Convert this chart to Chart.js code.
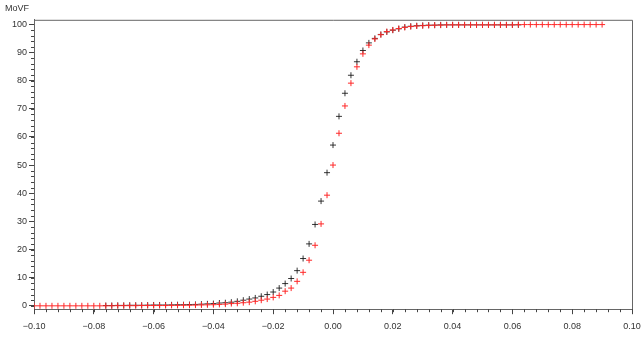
<!DOCTYPE html>
<html><head><meta charset="utf-8">
<script src="https://cdn.jsdelivr.net/npm/chart.js@4/dist/chart.umd.min.js"></script>
<style>html,body{margin:0;padding:0;background:#fff}#wrap{width:641px;height:337px}</style>
</head><body><div id="wrap"><canvas id="c" width="641" height="337"></canvas></div>
<script>
const redX = [-0.100,-0.098,-0.096,-0.094,-0.092,-0.090,-0.088,-0.086,-0.084,-0.082,-0.080,-0.078,-0.076,-0.074,-0.072,-0.070,-0.068,-0.066,-0.064,-0.062,-0.060,-0.058,-0.056,-0.054,-0.052,-0.050,-0.048,-0.046,-0.044,-0.042,-0.040,-0.038,-0.036,-0.034,-0.032,-0.030,-0.028,-0.026,-0.024,-0.022,-0.020,-0.018,-0.016,-0.014,-0.012,-0.010,-0.008,-0.006,-0.004,-0.002,0.000,0.002,0.004,0.006,0.008,0.010,0.012,0.014,0.016,0.018,0.020,0.022,0.024,0.026,0.028,0.030,0.032,0.034,0.036,0.038,0.040,0.042,0.044,0.046,0.048,0.050,0.052,0.054,0.056,0.058,0.060,0.062,0.064,0.066,0.068,0.070,0.072,0.074,0.076,0.078,0.080,0.082,0.084,0.086,0.088,0.090];
const redY = [0,0,0,0,0,0,0,0,0,0,0,0,0,0,0.05,0.05,0.05,0.05,0.1,0.1,0.1,0.1,0.1,0.15,0.15,0.2,0.2,0.25,0.3,0.35,0.4,0.5,0.6,0.8,0.9,1.1,1.3,1.6,2.0,2.4,3.0,3.7,5.2,6.3,8.7,11.9,16.2,21.5,29.1,39.3,50.0,61.3,71.0,79.1,84.9,89.5,92.6,94.8,96.3,97.4,98.0,98.5,98.9,99.2,99.4,99.5,99.6,99.7,99.7,99.8,99.8,99.8,99.8,99.8,99.8,99.8,99.8,99.8,99.8,99.8,99.8,99.9,99.9,99.9,99.9,99.9,99.9,99.9,99.9,99.9,99.9,99.9,99.9,99.9,99.9,99.9];
const blackX = [-0.076,-0.074,-0.072,-0.070,-0.068,-0.066,-0.064,-0.062,-0.060,-0.058,-0.056,-0.054,-0.052,-0.050,-0.048,-0.046,-0.044,-0.042,-0.040,-0.038,-0.036,-0.034,-0.032,-0.030,-0.028,-0.026,-0.024,-0.022,-0.020,-0.018,-0.016,-0.014,-0.012,-0.010,-0.008,-0.006,-0.004,-0.002,0.000,0.002,0.004,0.006,0.008,0.010,0.012,0.014,0.016,0.018,0.020,0.022,0.024,0.026,0.028,0.030,0.032,0.034,0.036,0.038,0.040,0.042,0.044,0.046,0.048,0.050,0.052,0.054,0.056,0.058,0.060,0.062];
const blackY = [0.1,0.1,0.15,0.15,0.2,0.2,0.2,0.25,0.3,0.3,0.3,0.35,0.4,0.4,0.45,0.5,0.6,0.7,0.8,1.0,1.1,1.3,1.6,2.0,2.4,2.8,3.4,4.0,4.9,6.3,7.9,9.7,12.5,16.8,22.0,28.9,37.2,47.3,57.1,67.3,75.5,81.9,86.7,90.7,93.4,95.0,96.4,97.3,97.9,98.4,99.0,99.3,99.5,99.6,99.7,99.7,99.8,99.8,99.8,99.8,99.8,99.8,99.8,99.8,99.8,99.8,99.8,99.8,99.8,99.8];
const xTicks = [-0.10,-0.08,-0.06,-0.04,-0.02,0.00,0.02,0.04,0.06,0.08,0.10];
const yTicks = [0,10,20,30,40,50,60,70,80,90,100];
const xMinorStep = 0.004, yMinorStep = 2;
const yTitle = 'MoVF';

const toPts = (xs, ys) => xs.map((x, i) => ({x: x, y: ys[i]}));
const fmtX = v => { const s = Math.abs(v).toFixed(2); return (v < -1e-9 ? '\u2212' : '') + s; };
const FONT = {family: 'Liberation Sans', size: 9};

const framePlugin = {
  id: 'frame',
  afterDraw(chart) {
    const {ctx, chartArea: a, scales} = chart;
    ctx.save();
    ctx.strokeStyle = '#666';
    ctx.lineWidth = 1;
    ctx.beginPath();
    ctx.moveTo(a.left, a.top + 0.5); ctx.lineTo(a.right + 0.5, a.top + 0.5); ctx.lineTo(a.right + 0.5, a.bottom);
    ctx.stroke();
    ctx.strokeStyle = '#444';
    ctx.beginPath();
    const xs = scales.x, ys = scales.y;
    for (let k = 0; ; k++) {
      const v = xs.min + k * xMinorStep;
      if (v > xs.max + 1e-9) break;
      const px = Math.round(xs.getPixelForValue(v)) + 0.5;
      ctx.moveTo(px, a.bottom); ctx.lineTo(px, a.bottom + 3);
    }
    for (let k = 0; ; k++) {
      const v = yTicks[0] + k * yMinorStep;
      if (v > ys.max) break;
      const py = Math.round(ys.getPixelForValue(v)) + 0.5;
      ctx.moveTo(a.left, py); ctx.lineTo(a.left - 3, py);
    }
    ctx.stroke();
    ctx.restore();
  }
};

new Chart(document.getElementById('c'), {
  type: 'scatter',
  data: {
    datasets: [
      {label: 'red', order: 0, data: toPts(redX, redY), pointStyle: 'cross', radius: 3, borderWidth: 1, borderColor: 'rgb(255,40,40)', backgroundColor: 'rgb(255,40,40)'},
      {label: 'black', order: 1, data: toPts(blackX, blackY), pointStyle: 'cross', radius: 3, borderWidth: 1, borderColor: 'rgba(20,20,20,0.85)', backgroundColor: 'rgba(20,20,20,0.85)'}
    ]
  },
  options: {
    responsive: false,
    animation: false,
    events: [],
    layout: {padding: {left: 5, right: 9, top: 0, bottom: 3}},
    plugins: {
      legend: {display: false},
      tooltip: {enabled: false},
      title: {display: true, text: yTitle, align: 'start', color: '#333',
        font: {family: 'Liberation Sans', size: 9, weight: 'normal'}, padding: {top: 3, bottom: 6}}
    },
    scales: {
      x: {
        type: 'linear', min: -0.10, max: 0.10,
        afterBuildTicks: s => { s.ticks = xTicks.map(v => ({value: v})); },
        afterFit: s => { s.height -= 5; s.paddingRight = 0; s.paddingLeft = 0; },
        ticks: {callback: v => fmtX(v), color: '#333', font: FONT, padding: 7, maxRotation: 0, autoSkip: false},
        grid: {drawOnChartArea: false, drawTicks: true, tickLength: 5, color: '#444'},
        border: {display: true, color: '#666', width: 1}
      },
      y: {
        type: 'linear', min: -1.2, max: 101.6,
        afterBuildTicks: s => { s.ticks = yTicks.map(v => ({value: v})); },
        afterFit: s => { s.width += 5; },
        ticks: {color: '#333', font: FONT, padding: 2},
        grid: {drawOnChartArea: false, drawTicks: true, tickLength: 5, color: '#444'},
        border: {display: true, color: '#666', width: 1}
      }
    }
  },
  plugins: [framePlugin]
});
</script>
</body></html>
